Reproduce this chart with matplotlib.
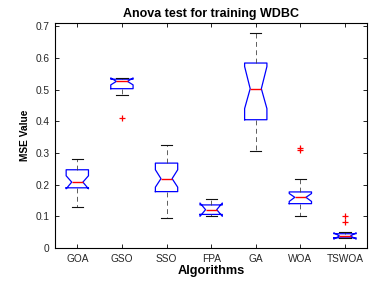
import matplotlib
matplotlib.use("Agg")
import matplotlib.pyplot as plt

algorithms = ["GOA", "GSO", "SSO", "FPA", "GA", "WOA", "TSWOA"]
whisker_low = [0.131, 0.484, 0.094, 0.100, 0.305, 0.100, 0.030]
q1 = [0.190, 0.503, 0.178, 0.106, 0.405, 0.140, 0.032]
median = [0.208, 0.526, 0.219, 0.121, 0.503, 0.160, 0.038]
q3 = [0.247, 0.533, 0.268, 0.136, 0.584, 0.177, 0.045]
whisker_high = [0.282, 0.538, 0.325, 0.156, 0.678, 0.219, 0.050]
notch_low = [0.187, 0.515, 0.192, 0.100, 0.440, 0.147, 0.028]
notch_high = [0.228, 0.537, 0.247, 0.142, 0.573, 0.172, 0.048]
outliers = [[], [0.409], [], [], [], [0.317, 0.310], [0.100, 0.083]]
yticks = [0, 0.1, 0.2, 0.3, 0.4, 0.5, 0.6, 0.7]

plt.rcParams['font.family'] = ['Liberation Sans', 'DejaVu Sans']
plt.rcParams['lines.scale_dashes'] = False

fig = plt.figure(figsize=(3.89, 2.82), dpi=100)
ax = fig.add_axes([0.1414, 0.1206, 0.8028, 0.7985])

stats = []
for i, name in enumerate(algorithms):
    stats.append(dict(label=name, med=median[i], q1=q1[i], q3=q3[i],
                      whislo=whisker_low[i], whishi=whisker_high[i],
                      cilo=notch_low[i], cihi=notch_high[i],
                      fliers=outliers[i]))

ax.bxp(stats, positions=range(1, len(algorithms) + 1), widths=0.5,
       shownotches=True, showfliers=True,
       boxprops=dict(color='#0000ff', linewidth=0.9),
       medianprops=dict(color='#ff0000', linewidth=1.0),
       whiskerprops=dict(color='#444444', linewidth=0.6, linestyle=(0, (3.5, 2.5))),
       capprops=dict(color='#111111', linewidth=0.8),
       flierprops=dict(marker='+', markeredgecolor='#ff0000', markersize=5,
                       markeredgewidth=0.9, linestyle='none'))

ax.set_xlim(0.5, len(algorithms) + 0.5)
ax.set_ylim(0, 0.711)
ax.set_yticks(yticks)
ax.set_yticklabels([("0" if v == 0 else f"{v:g}") for v in yticks])
ax.set_xticks(range(1, len(algorithms) + 1))
ax.set_xticklabels(algorithms)

ax.tick_params(direction='in', length=3, width=0.6, top=True, right=True,
               labelsize=7.3, colors='#262626', pad=4)
ax.tick_params(axis='both', color='black')
for s in ax.spines.values():
    s.set_linewidth(0.8)
    s.set_color('black')

ax.set_title("Anova test for training WDBC", fontsize=9, fontweight='bold', pad=4)
ax.set_xlabel("Algorithms", fontsize=9.2, fontweight='bold', labelpad=1)
ax.set_ylabel("MSE Value", fontsize=7.3, fontweight='bold', labelpad=4)

fig.savefig("out.png", dpi=100)
